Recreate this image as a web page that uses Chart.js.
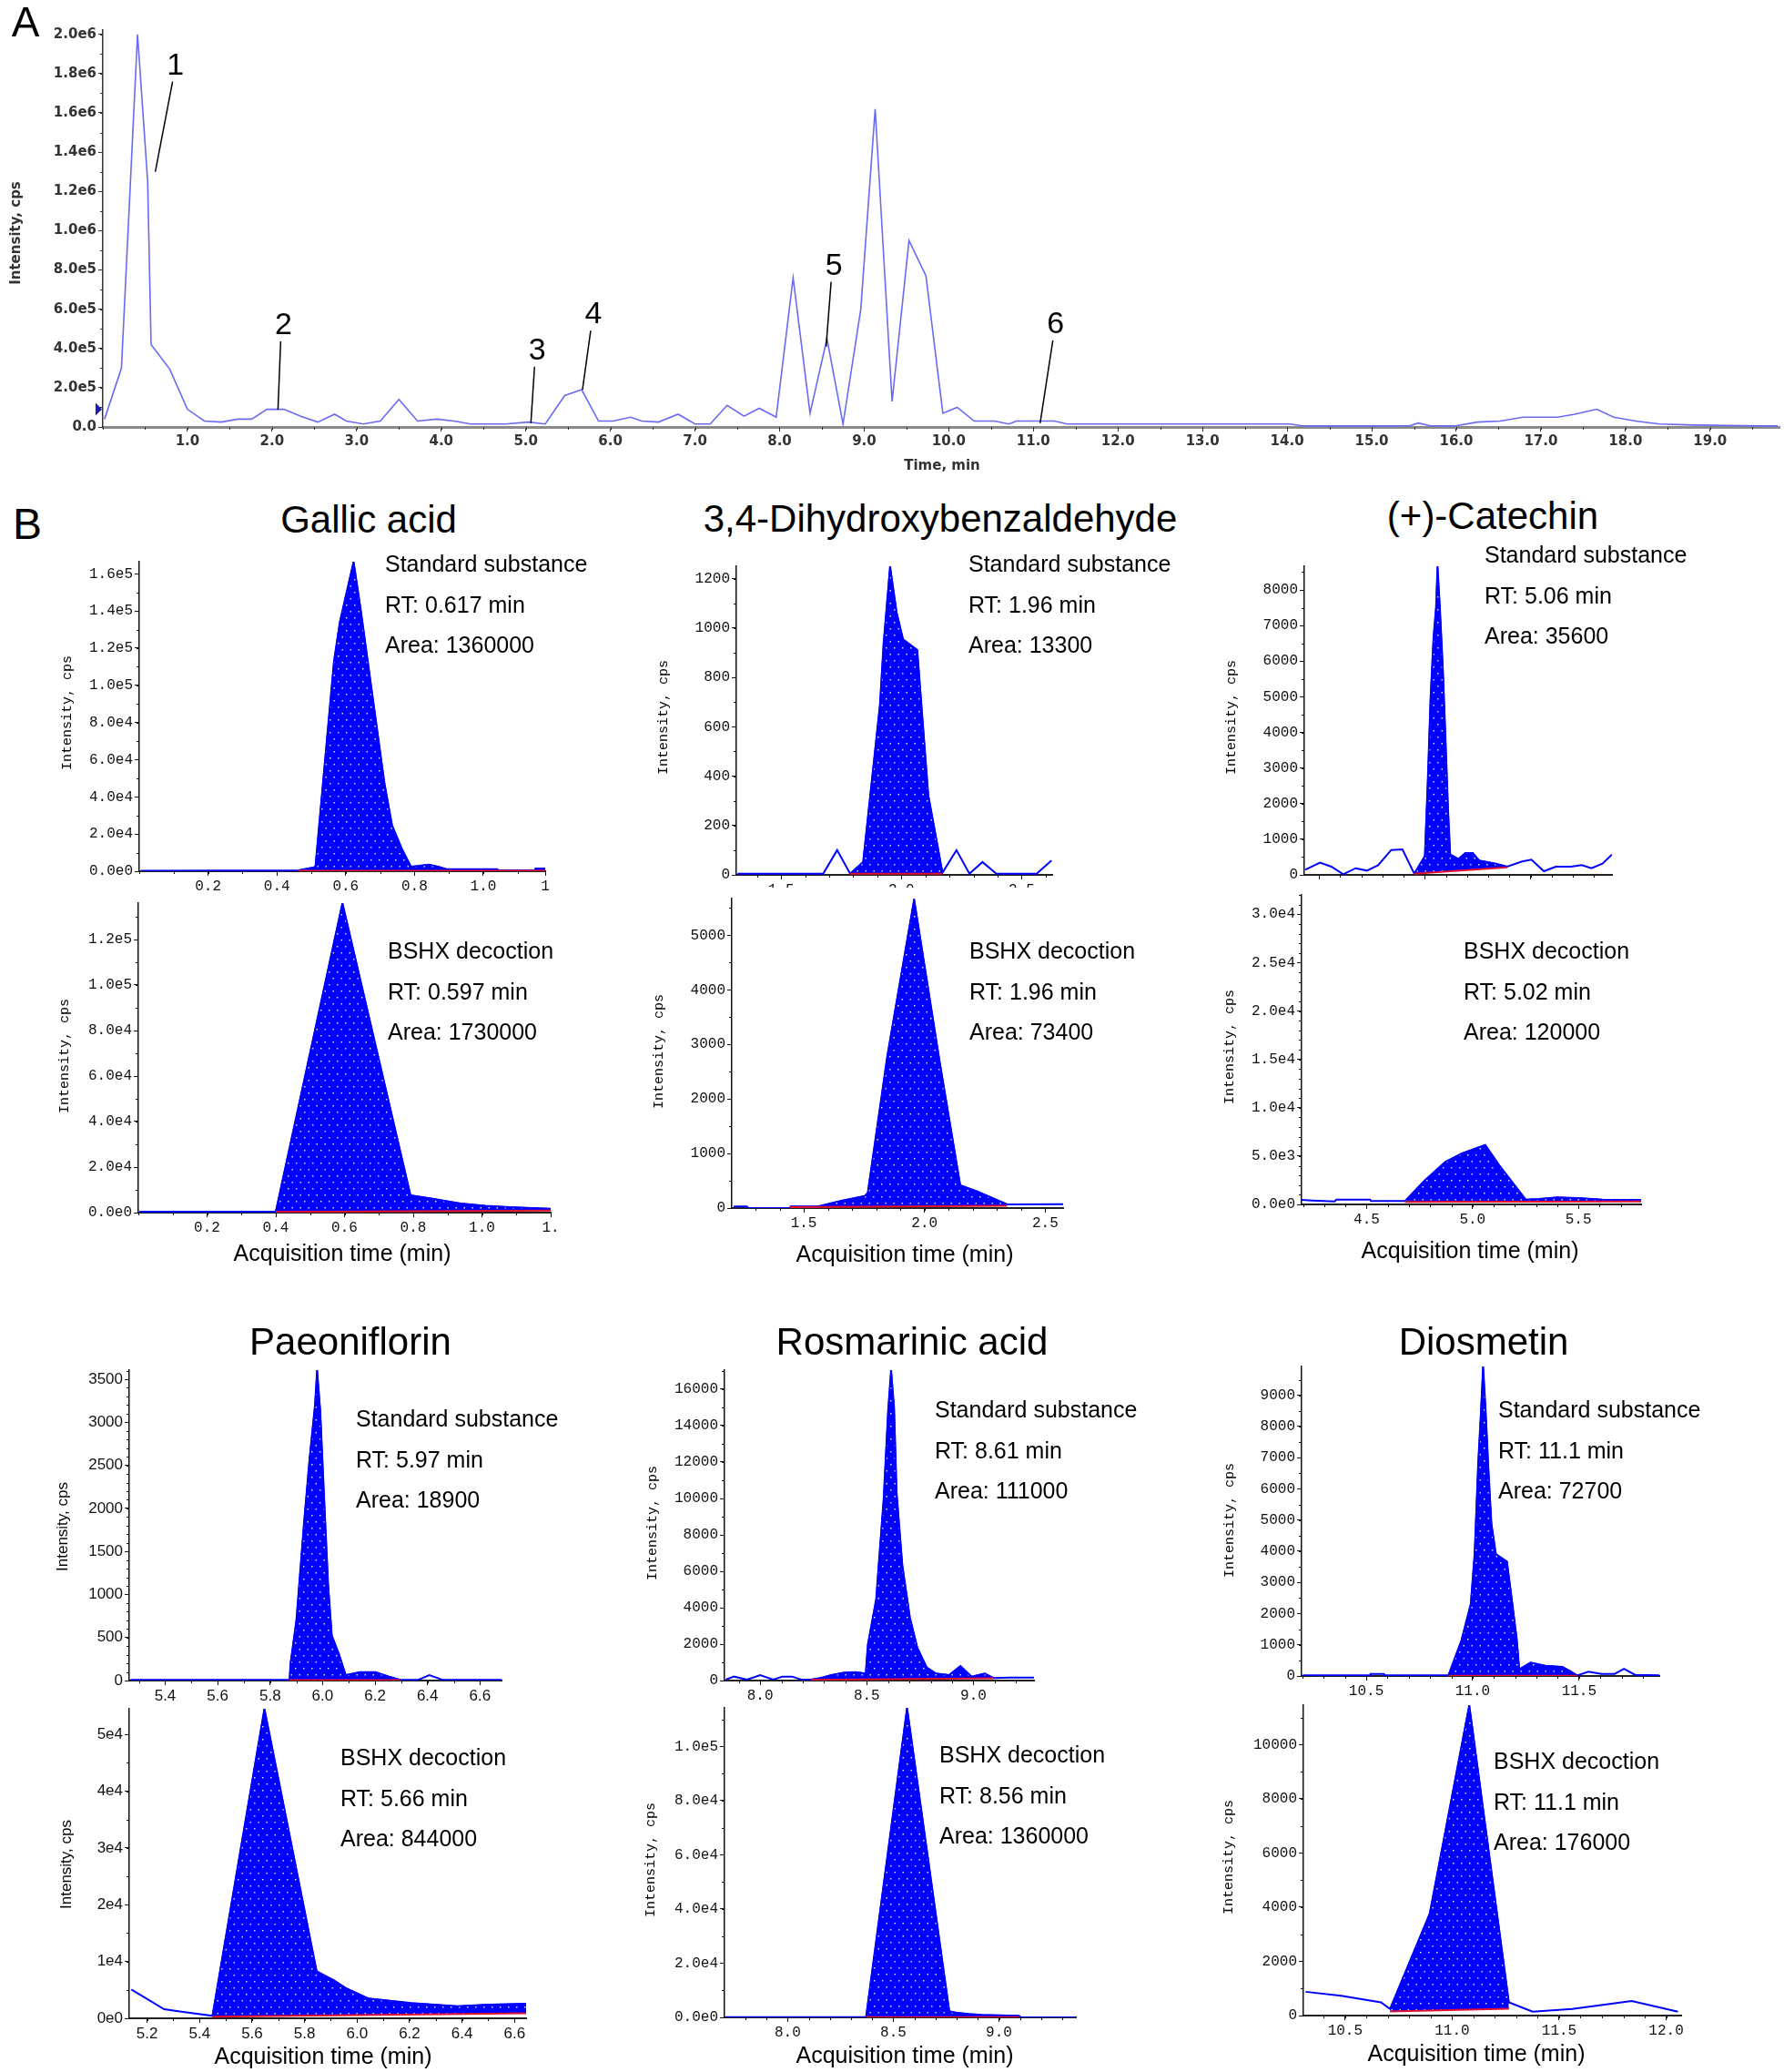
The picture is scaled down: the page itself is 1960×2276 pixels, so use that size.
<!DOCTYPE html>
<html>
<head>
<meta charset="utf-8">
<script src="https://cdn.jsdelivr.net/npm/chart.js@4/dist/chart.umd.min.js"></script>
<style>
  body { margin: 0; background: #fff; }
  #fig { position: relative; width: 1960px; height: 2276px; overflow: hidden; background: #fff; }
  #fig canvas { position: absolute; }
  .t { position: absolute; white-space: nowrap; line-height: 1; color: #000;
       font-family: "Liberation Sans", Arial, sans-serif; }
</style>
</head>
<body>
<div id="fig"></div>
<script>
"use strict";

// ---------- panel A: total ion chromatogram [time min, intensity cps] ----------
const ticTrace = [
  [0.02, 4e4], [0.22, 3.0e5], [0.41, 2.0e6], [0.53, 1.25e6], [0.57, 4.2e5], [0.79, 2.95e5],
  [1.0, 9e4], [1.2, 3e4], [1.4, 2.5e4], [1.6, 4e4], [1.76, 4e4], [1.94, 9e4], [2.14, 9e4],
  [2.34, 5.5e4], [2.54, 2.5e4], [2.74, 6.5e4], [2.88, 3e4], [3.08, 1.5e4], [3.28, 3e4],
  [3.5, 1.4e5], [3.72, 3e4], [3.95, 4e4], [4.15, 3e4], [4.35, 1.5e4], [4.76, 1.5e4],
  [5.03, 2.5e4], [5.23, 1.5e4], [5.46, 1.6e5], [5.66, 1.9e5], [5.86, 3e4], [6.03, 3e4],
  [6.24, 5e4], [6.37, 3e4], [6.57, 2.5e4], [6.8, 6.5e4], [7.0, 1.5e4], [7.18, 1.5e4],
  [7.38, 1.1e5], [7.58, 5.5e4], [7.76, 9.5e4], [7.96, 5e4], [8.16, 7.6e5], [8.36, 7e4],
  [8.56, 4.5e5], [8.75, 1.5e4], [8.96, 6e5], [9.13, 1.62e6], [9.33, 1.3e5], [9.53, 9.5e5],
  [9.73, 7.7e5], [9.93, 7e4], [10.1, 1e5], [10.3, 3e4], [10.54, 3e4], [10.71, 1.5e4],
  [10.8, 3e4], [11.25, 3e4], [11.4, 1.5e4], [14.03, 1.5e4], [14.2, 5e3], [15.44, 5e3],
  [15.55, 2e4], [15.7, 5e3], [15.98, 5e3], [16.25, 2.5e4], [16.52, 3e4], [16.79, 5e4],
  [17.2, 5e4], [17.4, 6.5e4], [17.66, 9e4], [17.86, 5e4], [18.12, 3e4], [18.4, 1.5e4],
  [18.8, 1e4], [19.6, 5e3], [19.8, 5e3],
];
const ticXTicks = [1, 2, 3, 4, 5, 6, 7, 8, 9, 10, 11, 12, 13, 14, 15, 16, 17, 18, 19];
const ticYTicks = [0, 2e5, 4e5, 6e5, 8e5, 1e6, 1.2e6, 1.4e6, 1.6e6, 1.8e6, 2e6];
const ticRange = [0, 19.82, 2.022e6];
const peakLabels = ["1", "2", "3", "4", "5", "6"];
const peakTimes = [0.62, 2.07, 5.06, 5.67, 8.55, 11.08];
const peakLevels = [1.3e6, 8.8e4, 1.9e4, 1.9e5, 4.1e5, 1.9e4];

// ---------- panel B: extracted ion chromatograms ----------
// trace: [time min, intensity cps]; peak: [start, end, baseline at start, baseline at end]
const gallicStd = [
  [0.005, 300], [0.463, 500], [0.504, 2000], [0.512, 2400], [0.566, 1.13e5], [0.583, 1.34e5],
  [0.623, 1.665e5], [0.645, 1.39e5], [0.673, 1.01e5], [0.713, 4.7e4], [0.735, 2.45e4],
  [0.763, 1.22e4], [0.79, 2400], [0.814, 2900], [0.842, 3600], [0.87, 2400], [0.893, 1100],
  [1.04, 1100], [1.045, 500], [1.15, 500], [1.152, 1500], [1.18, 1500],
];
const gallicStdPeak = [0.463, 1.18, 200, 200];
const gallicStdRange = [0, 1.18, 1.665e5];
const gallicStdX = [0.2, 0.4, 0.6, 0.8, 1.0, 1.18];
const gallicStdXLabels = ["0.2", "0.4", "0.6", "0.8", "1.0", "1"];
const gallicStdY = [0, 2e4, 4e4, 6e4, 8e4, 1e5, 1.2e5, 1.4e5, 1.6e5];
const gallicStdInfo = ["Standard substance", "RT: 0.617 min", "Area: 1360000"];

const gallicBshx = [
  [0.003, 400], [0.40, 400], [0.594, 1.36e5], [0.792, 7600], [0.848, 6300], [0.938, 4000],
  [1.01, 3000], [1.08, 2400], [1.2, 1700],
];
const gallicBshxPeak = [0.40, 1.2, 300, 900];
const gallicBshxRange = [0, 1.2, 1.36e5];
const gallicBshxX = [0.2, 0.4, 0.6, 0.8, 1.0, 1.2];
const gallicBshxXLabels = ["0.2", "0.4", "0.6", "0.8", "1.0", "1."];
const gallicBshxY = [0, 2e4, 4e4, 6e4, 8e4, 1e5, 1.2e5];
const gallicBshxInfo = ["BSHX decoction", "RT: 0.597 min", "Area: 1730000"];

const dhbaStd = [
  [1.319, 5], [1.675, 5], [1.733, 100], [1.787, 5], [1.841, 52], [1.911, 690], [1.926, 936],
  [1.953, 1249], [1.981, 1059], [2.007, 954], [2.066, 911], [2.112, 322], [2.171, 9],
  [2.229, 100], [2.283, 5], [2.337, 52], [2.395, 5], [2.562, 5], [2.624, 58],
];
const dhbaStdPeak = [1.787, 2.171, 5, 5];
const dhbaStdRange = [1.314, 2.627, 1250];
const dhbaStdX = [1.5, 2.0, 2.5];
const dhbaStdY = [0, 200, 400, 600, 800, 1000, 1200];
const dhbaStdInfo = ["Standard substance", "RT: 1.96 min", "Area: 13300"];

const dhbaBshx = [
  [1.21, 28], [1.264, 28], [1.272, 0], [1.443, 0], [1.446, 28], [1.559, 28], [1.574, 45],
  [1.66, 140], [1.753, 223], [1.765, 279], [1.846, 2787], [1.957, 5658], [2.063, 2675],
  [2.148, 418], [2.218, 307], [2.342, 67], [2.574, 72],
];
const dhbaBshxPeak = [1.443, 2.342, 15, 40];
const dhbaBshxRange = [1.202, 2.574, 5675];
const dhbaBshxX = [1.5, 2.0, 2.5];
const dhbaBshxY = [0, 1000, 2000, 3000, 4000, 5000];
const dhbaBshxInfo = ["BSHX decoction", "RT: 1.96 min", "Area: 73400"];

const catechinStd = [
  [4.434, 145], [4.504, 341], [4.558, 230], [4.614, 17], [4.673, 187], [4.726, 119],
  [4.779, 273], [4.841, 699], [4.894, 716], [4.95, 34], [5.0, 528], [5.014, 2658],
  [5.027, 4958], [5.041, 6662], [5.053, 7515], [5.06, 8665], [5.071, 7515], [5.085, 5810],
  [5.097, 3936], [5.11, 1806], [5.12, 571], [5.159, 443], [5.191, 613], [5.227, 613],
  [5.257, 400], [5.336, 315], [5.389, 230], [5.46, 375], [5.504, 426], [5.563, 102],
  [5.619, 230], [5.69, 230], [5.743, 273], [5.788, 187], [5.84, 315], [5.885, 571],
];
const catechinStdPeak = [4.95, 5.389, 34, 213];
const catechinStdRange = [4.43, 5.885, 8665];
const catechinStdX = [4.5, 5.0, 5.5];
const catechinStdY = [0, 1000, 2000, 3000, 4000, 5000, 6000, 7000, 8000];
const catechinStdInfo = ["Standard substance", "RT: 5.06 min", "Area: 35600"];

const catechinBshx = [
  [4.193, 470], [4.243, 408], [4.349, 314], [4.357, 503], [4.517, 503], [4.52, 345],
  [4.681, 345], [4.773, 2450], [4.871, 4397], [4.95, 5277], [5.06, 6156], [5.127, 4020],
  [5.251, 503], [5.313, 565], [5.402, 722], [5.517, 628], [5.614, 503], [5.796, 471],
];
const catechinBshxPeak = [4.681, 5.796, 250, 300];
const catechinBshxRange = [4.193, 5.796, 3.2e4];
const catechinBshxX = [4.5, 5.0, 5.5];
const catechinBshxY = [0, 5000, 10000, 15000, 20000, 25000, 30000];
const catechinBshxInfo = ["BSHX decoction", "RT: 5.02 min", "Area: 120000"];

const paeoniStd = [
  [5.268, 7], [5.874, 7], [5.878, 204], [5.9, 698], [5.929, 1826], [5.951, 2601], [5.971, 3200],
  [5.979, 3606], [5.991, 3130], [6.006, 2108], [6.021, 1121], [6.035, 522], [6.062, 310],
  [6.088, 63], [6.143, 99], [6.201, 99], [6.253, 46], [6.297, 7], [6.363, 7], [6.407, 63],
  [6.459, 7], [6.682, 7],
];
const paeoniStdPeak = [5.874, 6.297, 5, 5];
const paeoniStdRange = [5.263, 6.682, 3606];
const paeoniStdX = [5.4, 5.6, 5.8, 6.0, 6.2, 6.4, 6.6];
const paeoniStdY = [0, 500, 1000, 1500, 2000, 2500, 3000, 3500];
const paeoniStdInfo = ["Standard substance", "RT: 5.97 min", "Area: 18900"];

const paeoniBshx = [
  [5.14, 5080], [5.265, 1604], [5.331, 1176], [5.449, 428], [5.647, 54550], [5.846, 8290],
  [5.912, 6685], [5.956, 5348], [6.044, 3476], [6.206, 2674], [6.382, 2139], [6.5, 2407],
  [6.644, 2567],
];
const paeoniBshxPeak = [5.449, 6.644, 270, 900];
const paeoniBshxRange = [5.132, 6.644, 5.454e4];
const paeoniBshxX = [5.2, 5.4, 5.6, 5.8, 6.0, 6.2, 6.4, 6.6];
const paeoniBshxY = [0, 1e4, 2e4, 3e4, 4e4, 5e4];
const paeoniBshxInfo = ["BSHX decoction", "RT: 5.66 min", "Area: 844000"];

const rosmStd = [
  [7.839, 50], [7.877, 217], [7.939, 50], [8.0, 300], [8.061, 50], [8.105, 217], [8.149, 217],
  [8.193, 50], [8.237, 50], [8.281, 133], [8.333, 300], [8.395, 433], [8.447, 467],
  [8.495, 383], [8.505, 1967], [8.544, 4467], [8.579, 9967], [8.6, 14800], [8.614, 17050],
  [8.628, 14967], [8.64, 10300], [8.667, 6300], [8.702, 3467], [8.737, 1800], [8.781, 717],
  [8.825, 383], [8.886, 300], [8.939, 800], [8.991, 217], [9.053, 383], [9.096, 133],
  [9.167, 167], [9.284, 167],
];
const rosmStdPeak = [8.237, 9.096, 40, 120];
const rosmStdRange = [7.833, 9.284, 17050];
const rosmStdX = [8.0, 8.5, 9.0];
const rosmStdY = [0, 2000, 4000, 6000, 8000, 10000, 12000, 14000, 16000];
const rosmStdInfo = ["Standard substance", "RT: 8.61 min", "Area: 111000"];

const rosmBshx = [
  [7.706, 112], [8.371, 112], [8.565, 114200], [8.765, 2240], [8.795, 1792], [8.856, 1232],
  [8.918, 896], [9.094, 560], [9.103, 112], [9.364, 0],
];
const rosmBshxPeak = [8.371, 9.094, 50, 50];
const rosmBshxRange = [7.701, 9.364, 1.142e5];
const rosmBshxX = [8.0, 8.5, 9.0];
const rosmBshxY = [0, 2e4, 4e4, 6e4, 8e4, 1e5];
const rosmBshxInfo = ["BSHX decoction", "RT: 8.56 min", "Area: 1360000"];

const diosStd = [
  [10.202, 19], [10.518, 19], [10.52, 68], [10.582, 68], [10.585, 19], [10.886, 19],
  [10.947, 1138], [10.991, 2306], [11.009, 3911], [11.026, 6830], [11.039, 8485],
  [11.049, 9925], [11.061, 8485], [11.074, 6636], [11.088, 4884], [11.109, 3911],
  [11.161, 3668], [11.184, 2452], [11.207, 1187], [11.219, 214], [11.272, 428],
  [11.342, 331], [11.421, 292], [11.456, 165], [11.491, 19], [11.544, 136], [11.605, 68],
  [11.667, 68], [11.711, 233], [11.763, 39], [11.877, 19],
];
const diosStdPeak = [10.886, 11.491, 10, 10];
const diosStdRange = [10.196, 11.877, 9925];
const diosStdX = [10.5, 11.0, 11.5];
const diosStdY = [0, 1000, 2000, 3000, 4000, 5000, 6000, 7000, 8000, 9000];
const diosStdInfo = ["Standard substance", "RT: 11.1 min", "Area: 72700"];

const diosBshx = [
  [10.315, 878], [10.481, 732], [10.667, 488], [10.71, 244], [10.895, 3756], [11.08, 11460],
  [11.265, 488], [11.376, 146], [11.561, 244], [11.839, 537], [12.055, 146],
];
const diosBshxPeak = [10.71, 11.265, 150, 250];
const diosBshxRange = [10.305, 12.07, 11460];
const diosBshxX = [10.5, 11.0, 11.5, 12.0];
const diosBshxY = [0, 2000, 4000, 6000, 8000, 10000];
const diosBshxInfo = ["BSHX decoction", "RT: 11.1 min", "Area: 176000"];

const compounds = ["Gallic acid", "3,4-Dihydroxybenzaldehyde", "(+)-Catechin",
  "Paeoniflorin", "Rosmarinic acid", "Diosmetin"];

// ---------- layout ----------
const MONO = '"Liberation Mono", "DejaVu Sans Mono", monospace';
const SANS = '"Liberation Sans", Arial, sans-serif';
const DEJA = '"DejaVu Sans", Verdana, sans-serif';
const titleAt = [[405, 571], [1033, 570], [1640, 567], [385, 1474], [1002, 1474], [1630, 1474]];
const acqAt = [[376, 1376], [994, 1377], [1615, 1373], [355, 2258], [994, 2257], [1622, 2255]];

const panels = [
  { trace: gallicStd, peak: gallicStdPeak, range: gallicStdRange, xTicks: gallicStdX, xLabels: gallicStdXLabels,
    yTicks: gallicStdY, yFmt: "e1", minor: [0.1, 1e4], rect: [153, 617, 599, 957],
    info: gallicStdInfo, infoAt: [423, 619], yTitleAt: [74, 783] },
  { trace: gallicBshx, peak: gallicBshxPeak, range: gallicBshxRange, xTicks: gallicBshxX, xLabels: gallicBshxXLabels,
    yTicks: gallicBshxY, yFmt: "e1", minor: [0.1, 1e4], rect: [152, 992, 605, 1332],
    info: gallicBshxInfo, infoAt: [426, 1044], yTitleAt: [71, 1160] },
  { trace: dhbaStd, peak: dhbaStdPeak, range: dhbaStdRange, xTicks: dhbaStdX,
    yTicks: dhbaStdY, yFmt: "n", minor: [0.1, 100], rect: [809, 622, 1156, 961],
    info: dhbaStdInfo, infoAt: [1064, 619], yTitleAt: [729, 788] },
  { trace: dhbaBshx, peak: dhbaBshxPeak, range: dhbaBshxRange, xTicks: dhbaBshxX,
    yTicks: dhbaBshxY, yFmt: "n", minor: [0.1, 500], rect: [804, 987, 1168, 1327], white: true,
    info: dhbaBshxInfo, infoAt: [1065, 1044], yTitleAt: [724, 1155] },
  { trace: catechinStd, peak: catechinStdPeak, range: catechinStdRange, xTicks: catechinStdX,
    yTicks: catechinStdY, yFmt: "n", minor: [0.1, 500], rect: [1433, 622, 1771, 961],
    info: catechinStdInfo, infoAt: [1631, 609], yTitleAt: [1353, 788] },
  { trace: catechinBshx, peak: catechinBshxPeak, range: catechinBshxRange, xTicks: catechinBshxX,
    yTicks: catechinBshxY, yFmt: "e1", minor: [0.1, 1000], rect: [1430, 983, 1803, 1323], white: true,
    info: catechinBshxInfo, infoAt: [1608, 1044], yTitleAt: [1351, 1150] },
  { trace: paeoniStd, peak: paeoniStdPeak, range: paeoniStdRange, xTicks: paeoniStdX,
    yTicks: paeoniStdY, yFmt: "n", minor: [0.1, 100], rect: [142, 1505, 551, 1846], sans: true,
    info: paeoniStdInfo, infoAt: [391, 1558], yTitleAt: [68, 1677] },
  { trace: paeoniBshx, peak: paeoniBshxPeak, range: paeoniBshxRange, xTicks: paeoniBshxX,
    yTicks: paeoniBshxY, yFmt: "e0", minor: [0.1, 5000], rect: [142, 1877, 578, 2217], sans: true,
    info: paeoniBshxInfo, infoAt: [374, 1930], yTitleAt: [72, 2048] },
  { trace: rosmStd, peak: rosmStdPeak, range: rosmStdRange, xTicks: rosmStdX,
    yTicks: rosmStdY, yFmt: "n", minor: [0.1, 1000], rect: [796, 1505, 1136, 1846],
    info: rosmStdInfo, infoAt: [1027, 1548], yTitleAt: [717, 1673] },
  { trace: rosmBshx, peak: rosmBshxPeak, range: rosmBshxRange, xTicks: rosmBshxX,
    yTicks: rosmBshxY, yFmt: "e1", minor: [0.1, 1e4], rect: [796, 1876, 1182, 2216],
    info: rosmBshxInfo, infoAt: [1032, 1927], yTitleAt: [715, 2043] },
  { trace: diosStd, peak: diosStdPeak, range: diosStdRange, xTicks: diosStdX,
    yTicks: diosStdY, yFmt: "n", minor: [0.1, 500], rect: [1430, 1501, 1823, 1841],
    info: diosStdInfo, infoAt: [1646, 1548], yTitleAt: [1351, 1670] },
  { trace: diosBshx, peak: diosBshxPeak, range: diosBshxRange, xTicks: diosBshxX,
    yTicks: diosBshxY, yFmt: "n", minor: [0.1, 1000], rect: [1432, 1873, 1847, 2214],
    info: diosBshxInfo, infoAt: [1641, 1934], yTitleAt: [1350, 2040] },
];

const fig = document.getElementById("fig");

function addText(str, x, y, css, how) {
  const d = document.createElement("div");
  d.className = "t";
  d.textContent = str;
  d.style.left = x + "px";
  d.style.top = y + "px";
  Object.assign(d.style, css);
  d.style.transform = how === "left" ? "translate(0,-50%)"
    : how === "rot" ? "translate(-50%,-50%) rotate(-90deg)" : "translate(-50%,-50%)";
  fig.appendChild(d);
}

function fmtY(kind) {
  if (kind === "e1") return v => (v === 0 ? "0.0e0" : v.toExponential(1).replace("+", ""));
  if (kind === "e0") return v => (v === 0 ? "0e0" : v.toExponential(0).replace("+", ""));
  if (kind === "a") return v => (v === 0 ? "0.0" : v.toExponential(1).replace("+", ""));
  return v => String(v);
}

function dotPattern() {
  const c = document.createElement("canvas");
  c.width = 9; c.height = 14;
  const g = c.getContext("2d");
  g.fillStyle = "#0000ff";
  g.fillRect(0, 0, 9, 14);
  g.fillStyle = "#dcdcff";
  g.fillRect(2, 3, 1.5, 1.5);
  g.fillRect(6.5, 10, 1.5, 1.5);
  return g.createPattern(c, "repeat");
}

const minorTicks = {
  id: "minorTicks",
  afterDraw(chart, args, o) {
    if (!o || !o.step) return;
    const { ctx, scales: { x, y } } = chart;
    const [sx, sy] = o.step;
    ctx.save();
    ctx.strokeStyle = o.color || "#000";
    ctx.lineWidth = 1;
    ctx.beginPath();
    if (sx) {
      for (let i = Math.ceil(x.min / sx - 1e-6); i * sx <= x.max + 1e-9; i++) {
        const px = Math.round(x.getPixelForValue(i * sx)) + 0.5;
        ctx.moveTo(px, y.bottom); ctx.lineTo(px, y.bottom + 3);
      }
    }
    if (sy) {
      for (let i = 0; i * sy <= y.max + 1e-9; i++) {
        const py = Math.round(y.getPixelForValue(i * sy)) + 0.5;
        ctx.moveTo(x.left, py); ctx.lineTo(x.left - 3, py);
      }
    }
    ctx.stroke();
    ctx.restore();
  },
};

// numbered leader lines of panel A, anchored on (time, intensity)
const peakMarks = {
  id: "peakMarks",
  afterDatasetsDraw(chart, args, o) {
    if (!o || !o.labels) return;
    const { ctx, scales: { x, y } } = chart;
    ctx.save();
    ctx.strokeStyle = "#000";
    ctx.fillStyle = "#000";
    ctx.lineWidth = 1.5;
    ctx.font = '34px "Liberation Sans", Arial, sans-serif';
    ctx.textAlign = "center";
    ctx.textBaseline = "middle";
    o.labels.forEach((lab, i) => {
      const ex = x.getPixelForValue(o.t[i]);
      const ey = y.getPixelForValue(o.v[i]);
      const [dx, dy] = o.offsets[i];
      ctx.beginPath();
      ctx.moveTo(ex, ey);
      ctx.lineTo(ex + dx, ey + dy);
      ctx.stroke();
      ctx.fillText(lab, ex + dx + 3, ey + dy - 17);
    });
    // start marker on the y axis
    const my = y.getPixelForValue(o.marker);
    ctx.fillStyle = "#1b1bb0";
    ctx.beginPath();
    ctx.moveTo(x.left - 8, my - 7);
    ctx.lineTo(x.left - 1, my);
    ctx.lineTo(x.left - 8, my + 7);
    ctx.closePath();
    ctx.fill();
    ctx.restore();
  },
};

function axis(cfg, isX) {
  return {
    type: "linear",
    min: isX ? cfg.range[0] : 0,
    max: isX ? cfg.range[1] : cfg.range[2],
    afterBuildTicks: s => { s.ticks = (isX ? cfg.xTicks : cfg.yTicks).map(v => ({ value: v })); },
    afterFit: s => {
      if (isX) { s.height = cfg.hx; s.paddingLeft = 0; s.paddingRight = 0; }
      else { s.width = cfg.wy; s.paddingTop = 0; s.paddingBottom = 0; }
    },
    ticks: {
      autoSkip: false, maxRotation: 0, minRotation: 0, padding: 2,
      color: cfg.tickColor, font: cfg.tickFont,
      callback: (v, i) => (isX ? cfg.xLabels[i] : cfg.yLabel(cfg.yTicks[i])),
    },
    grid: { drawOnChartArea: false, drawTicks: true, tickLength: 5, tickColor: cfg.tickColor, tickWidth: 1 },
    border: { display: true, color: isX ? cfg.xAxisColor : cfg.tickColor, width: isX ? cfg.xAxisWidth : 1.5 },
  };
}

function drawPlot(cfg) {
  const [x0, y0, x1, y1] = cfg.rect;
  const cv = document.createElement("canvas");
  cv.width = x1 - x0 + cfg.wy + cfg.pr;
  cv.height = y1 - y0 + cfg.pt + cfg.hx;
  cv.style.left = (x0 - cfg.wy) + "px";
  cv.style.top = (y0 - cfg.pt) + "px";
  if (cfg.white) cv.style.background = "#fff";
  fig.appendChild(cv);
  return new Chart(cv, {
    type: "line",
    data: { datasets: cfg.datasets },
    options: {
      responsive: false, animation: false, devicePixelRatio: 1, events: [],
      layout: { padding: { left: 0, top: cfg.pt, right: cfg.pr, bottom: 0 } },
      elements: { point: { radius: 0 }, line: { tension: 0 } },
      plugins: {
        legend: { display: false }, tooltip: { enabled: false },
        minorTicks: { step: cfg.minor, color: cfg.tickColor },
        peakMarks: cfg.marks || {},
      },
      scales: { x: axis(cfg, true), y: axis(cfg, false) },
    },
    plugins: [minorTicks, peakMarks],
  });
}

const pts = arr => arr.map(([x, y]) => ({ x, y }));

// ---------- panel A ----------
drawPlot({
  rect: [113, 33, 1955, 469], wy: 100, pt: 15, pr: 5, hx: 34,
  range: ticRange, xTicks: ticXTicks, xLabels: ticXTicks.map(v => v.toFixed(1)),
  yTicks: ticYTicks, yLabel: fmtY("a"), minor: [0.5, 1e5],
  tickFont: { family: DEJA, size: 15, weight: "bold" }, tickColor: "#333",
  xAxisColor: "#8a8a8a", xAxisWidth: 3,
  datasets: [{ data: pts(ticTrace), borderColor: "#6a6af2", borderWidth: 1.6, fill: false }],
  marks: {
    labels: peakLabels, t: peakTimes, v: peakLevels, marker: 9e4,
    offsets: [[19, -99], [3, -75], [4, -62], [9, -65], [5.5, -71], [14, -91]],
  },
});

// ---------- panel B ----------
const pattern = dotPattern();
panels.forEach(p => {
  const [a, b, ya, yb] = p.peak;
  const all = pts(p.trace);
  drawPlot({
    rect: p.rect, wy: 72, pt: 12, pr: 25, hx: 30, white: p.white,
    range: p.range, xTicks: p.xTicks, xLabels: p.xLabels || p.xTicks.map(v => v.toFixed(1)),
    yTicks: p.yTicks, yLabel: fmtY(p.yFmt), minor: p.minor,
    tickFont: p.sans ? { family: SANS, size: 17 } : { family: MONO, size: 16 },
    tickColor: "#111", xAxisColor: "#222", xAxisWidth: 2,
    datasets: [
      { data: [{ x: a, y: ya }, { x: b, y: yb }], borderColor: "#e0102e", borderWidth: 2, fill: false },
      { data: all.filter(q => q.x >= a - 1e-9 && q.x <= b + 1e-9), borderColor: "#0000ff",
        borderWidth: 1.5, backgroundColor: pattern, fill: 0 },
      { data: all, borderColor: "#0000ff", borderWidth: 2, fill: false },
    ],
  });
});

// ---------- texts ----------
addText("A", 28, 24, { fontSize: "46px" }, "center");
addText("B", 30, 576, { fontSize: "48px" }, "center");
addText("Intensity, cps", 17, 256, { fontFamily: DEJA, fontWeight: "bold", fontSize: "15px", color: "#333" }, "rot");
addText("Time, min", 1035, 511, { fontFamily: DEJA, fontWeight: "bold", fontSize: "15px", color: "#333" }, "center");

compounds.forEach((name, i) => {
  addText(name, titleAt[i][0], titleAt[i][1], { fontSize: "42px" }, "center");
  addText("Acquisition time (min)", acqAt[i][0], acqAt[i][1], { fontSize: "25px" }, "center");
});

panels.forEach(p => {
  p.info.forEach((line, k) => {
    addText(line, p.infoAt[0], p.infoAt[1] + k * 44.5, { fontSize: "25px" }, "left");
  });
  const ytCss = p.sans ? { fontFamily: SANS, fontSize: "17px" } : { fontFamily: MONO, fontSize: "15px" };
  addText("Intensity, cps", p.yTitleAt[0], p.yTitleAt[1], ytCss, "rot");
});
</script>
</body>
</html>
